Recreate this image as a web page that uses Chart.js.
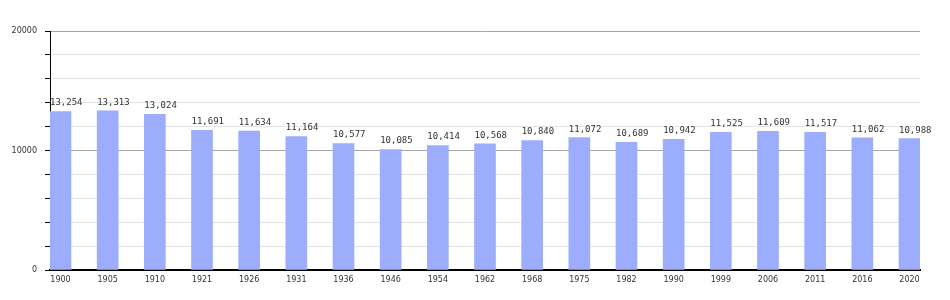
<!DOCTYPE html>
<html>
<head>
<meta charset="utf-8">
<style>
  html, body { margin: 0; padding: 0; background: #fff; }
  canvas { display: block; }
</style>
</head>
<body>
<canvas id="chart" width="950" height="300"></canvas>
<script src="https://cdn.jsdelivr.net/npm/chart.js"></script>
<script>
  const years = ['1900', '1905', '1910', '1921', '1926', '1931', '1936', '1946', '1954', '1962',
                 '1968', '1975', '1982', '1990', '1999', '2006', '2011', '2016', '2020'];
  const population = [13254, 13313, 13024, 11691, 11634, 11164, 10577, 10085, 10414, 10568,
                      10840, 11072, 10689, 10942, 11525, 11609, 11517, 11062, 10988];
  const yTicks = [0, 10000, 20000];

  // etichette dei valori sopra le barre
  const valueLabels = {
    id: 'valueLabels',
    afterDatasetsDraw(chart) {
      const ctx = chart.ctx;
      const meta = chart.getDatasetMeta(0);
      ctx.save();
      ctx.font = '9px "DejaVu Sans Mono"';
      ctx.fillStyle = '#333';
      ctx.textAlign = 'left';
      ctx.textBaseline = 'bottom';
      meta.data.forEach((bar, i) => {
        ctx.fillText(population[i].toLocaleString('en-US'), bar.x - bar.width / 2, bar.y - 4);
      });
      ctx.restore();
    }
  };

  const ctx = document.getElementById('chart').getContext('2d');
  new Chart(ctx, {
    type: 'bar',
    data: {
      datasets: [{
        data: population.map((v, i) => ({ x: i, y: v })),
        backgroundColor: '#9badfc',
        barThickness: 21
      }]
    },
    options: {
      responsive: false,
      animation: false,
      events: [],
      layout: { padding: { top: 31, right: 30, left: 0, bottom: 0 } },
      plugins: {
        legend: { display: false },
        tooltip: { enabled: false }
      },
      scales: {
        x: {
          type: 'linear',
          offset: false,
          min: -0.2226,
          max: 18.2226,
          afterBuildTicks: s => { s.ticks = years.map((_, i) => ({ value: i })); },
          afterFit: s => { s.height = 30; },
          ticks: {
            autoSkip: false,
            maxRotation: 0,
            padding: 5,
            color: '#333',
            font: { family: 'DejaVu Sans', size: 8 },
            callback: v => years[v]
          },
          grid: { display: false, drawTicks: false, offset: false },
          border: { display: true, color: '#000', width: 2 }
        },
        y: {
          min: 0,
          max: 20000,
          afterFit: s => { s.width = 50; },
          ticks: {
            stepSize: 2000,
            autoSkip: false,
            padding: 8,
            color: '#333',
            font: { family: 'DejaVu Sans', size: 8 },
            callback: v => yTicks.includes(v) ? String(v) : ''
          },
          grid: {
            color: c => (c.tick && c.tick.value % 10000 === 0) ? '#a6a6a6' : '#e3e3e3',
            tickColor: '#000',
            tickLength: 5
          },
          border: { display: true, color: '#000', width: 1 }
        }
      }
    },
    plugins: [valueLabels]
  });
</script>
</body>
</html>
